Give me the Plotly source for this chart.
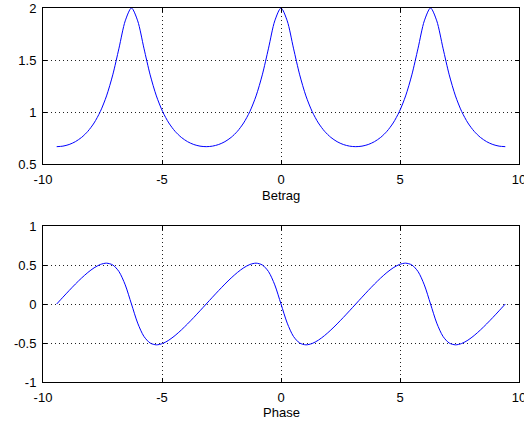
import plotly.graph_objects as go

# Frequency axis (rad), -3*pi .. 3*pi in steps of pi/12
omega = [
    -9.4248, -9.1630, -8.9012, -8.6394, -8.3776, -8.1158, -7.8540, -7.5922, -7.3304,
    -7.0686, -6.8068, -6.5450, -6.2832, -6.0214, -5.7596, -5.4978, -5.2360, -4.9742,
    -4.7124, -4.4506, -4.1888, -3.9270, -3.6652, -3.4034, -3.1416, -2.8798, -2.6180,
    -2.3562, -2.0944, -1.8326, -1.5708, -1.3090, -1.0472, -0.7854, -0.5236, -0.2618,
    0.0,
    0.2618, 0.5236, 0.7854, 1.0472, 1.3090, 1.5708, 1.8326, 2.0944, 2.3562,
    2.6180, 2.8798, 3.1416, 3.4034, 3.6652, 3.9270, 4.1888, 4.4506, 4.7124,
    4.9742, 5.2360, 5.4978, 5.7596, 6.0214, 6.2832, 6.5450, 6.8068, 7.0686,
    7.3304, 7.5922, 7.8540, 8.1158, 8.3776, 8.6394, 8.9012, 9.1630, 9.4248,
]

# Magnitude response |H|
betrag = [
    0.6667, 0.6718, 0.6874, 0.7148, 0.7559, 0.8141, 0.8944, 1.0044, 1.1547,
    1.3572, 1.6138, 1.8762, 2.0000, 1.8762, 1.6138, 1.3572, 1.1547, 1.0044,
    0.8944, 0.8141, 0.7559, 0.7148, 0.6874, 0.6718, 0.6667, 0.6718, 0.6874,
    0.7148, 0.7559, 0.8141, 0.8944, 1.0044, 1.1547, 1.3572, 1.6138, 1.8762,
    2.0000,
    1.8762, 1.6138, 1.3572, 1.1547, 1.0044, 0.8944, 0.8141, 0.7559, 0.7148,
    0.6874, 0.6718, 0.6667, 0.6718, 0.6874, 0.7148, 0.7559, 0.8141, 0.8944,
    1.0044, 1.1547, 1.3572, 1.6138, 1.8762, 2.0000, 1.8762, 1.6138, 1.3572,
    1.1547, 1.0044, 0.8944, 0.8141, 0.7559, 0.7148, 0.6874, 0.6718, 0.6667,
]

# Phase response arg(H) in rad
phase = [
    0.0, 0.0870, 0.1727, 0.2555, 0.3335, 0.4040, 0.4636, 0.5065, 0.5236,
    0.5005, 0.4153, 0.2453, 0.0, -0.2453, -0.4153, -0.5005, -0.5236, -0.5065,
    -0.4636, -0.4040, -0.3335, -0.2555, -0.1727, -0.0870, 0.0, 0.0870, 0.1727,
    0.2555, 0.3335, 0.4040, 0.4636, 0.5065, 0.5236, 0.5005, 0.4153, 0.2453,
    0.0,
    -0.2453, -0.4153, -0.5005, -0.5236, -0.5065, -0.4636, -0.4040, -0.3335, -0.2555,
    -0.1727, -0.0870, 0.0, 0.0870, 0.1727, 0.2555, 0.3335, 0.4040, 0.4636,
    0.5065, 0.5236, 0.5005, 0.4153, 0.2453, 0.0, -0.2453, -0.4153, -0.5005,
    -0.5236, -0.5065, -0.4636, -0.4040, -0.3335, -0.2555, -0.1727, -0.0870, 0.0,
]

# Tick positions and labels (plain hyphen as minus sign)
x_ticks = [-10, -5, 0, 5, 10]
x_ticktext = ["-10", "-5", "0", "5", "10"]
mag_ticks = [0.5, 1, 1.5, 2]
mag_ticktext = ["0.5", "1", "1.5", "2"]
ph_ticks = [-1, -0.5, 0, 0.5, 1]
ph_ticktext = ["-1", "-0.5", "0", "0.5", "1"]

FONT = "Arial, Liberation Sans, sans-serif"
FS = 13
line_style = dict(color="#0000ff", width=1, shape="spline", smoothing=0.8)

fig = go.Figure()
fig.add_trace(go.Scatter(x=omega, y=betrag, mode="lines", line=line_style,
                         xaxis="x", yaxis="y", showlegend=False, hoverinfo="skip"))
fig.add_trace(go.Scatter(x=omega, y=phase, mode="lines", line=line_style,
                         xaxis="x2", yaxis="y2", showlegend=False, hoverinfo="skip"))

axis_common = dict(
    showline=True, linecolor="black", linewidth=1, mirror="allticks",
    ticks="inside", ticklen=4, tickcolor="black", tickwidth=1,
    showgrid=True, gridcolor="#222222", gridwidth=1, griddash="1px,3px",
    zeroline=False, automargin=False, ticklabeloverflow="allow",
    tickfont=dict(family=FONT, size=FS, color="black"),
)
xaxis_common = dict(axis_common, range=[-10, 10], tickmode="array",
                    tickvals=x_ticks, ticktext=x_ticktext, domain=[0, 1],
                    ticklabelstandoff=3)

fig.update_layout(
    width=524, height=423,
    margin=dict(l=43, r=5, t=8, b=41),
    paper_bgcolor="white", plot_bgcolor="white",
    font=dict(family=FONT, size=FS, color="black"),
    xaxis=dict(xaxis_common, anchor="y"),
    yaxis=dict(axis_common, range=[0.5, 2], tickmode="array",
               tickvals=mag_ticks, ticktext=mag_ticktext,
               domain=[0.5829, 1], anchor="x", ticklabelstandoff=3),
    xaxis2=dict(xaxis_common, anchor="y2"),
    yaxis2=dict(axis_common, range=[-1, 1], tickmode="array",
                tickvals=ph_ticks, ticktext=ph_ticktext,
                domain=[0, 0.4171], anchor="x2", ticklabelstandoff=3),
    annotations=[
        dict(text="Betrag", xref="x domain", yref="y domain", x=0.5, y=-0.199,
             showarrow=False, xanchor="center", yanchor="middle",
             font=dict(family=FONT, size=FS, color="black")),
        dict(text="Phase", xref="x2 domain", yref="y2 domain", x=0.5, y=-0.195,
             showarrow=False, xanchor="center", yanchor="middle",
             font=dict(family=FONT, size=FS, color="black")),
    ],
)

fig.write_html("out.html")
